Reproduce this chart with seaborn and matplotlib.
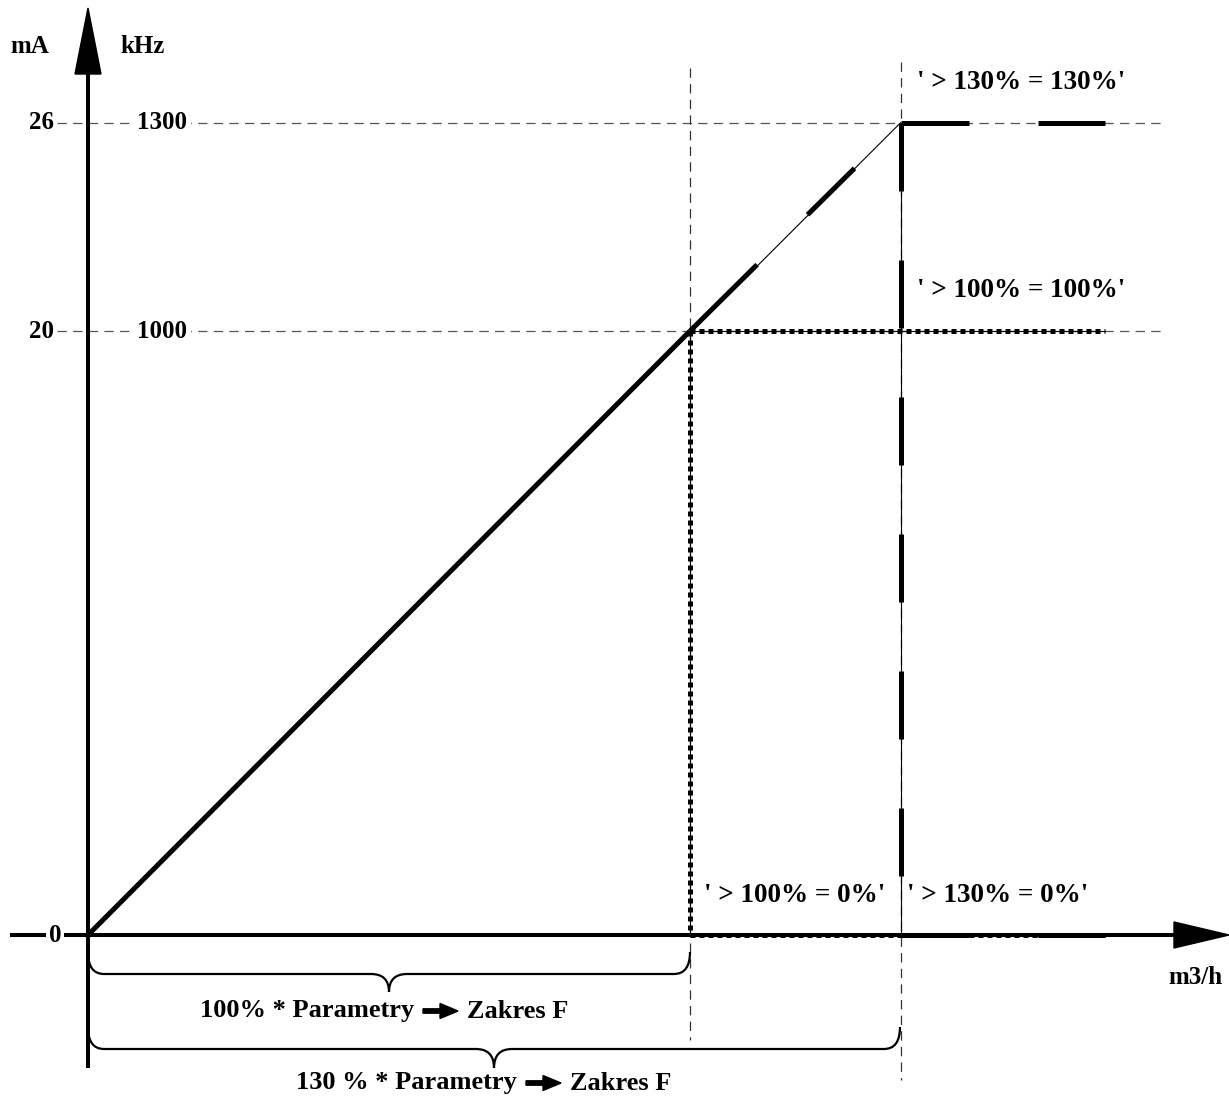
import matplotlib
matplotlib.use("Agg")
import numpy as np
import pandas as pd
import seaborn as sns
import matplotlib.pyplot as plt
from matplotlib.path import Path
from matplotlib.patches import PathPatch, Polygon

# ---------------- data (as drawn) ----------------
flow_pct = [0, 100, 135]          # x break points (origin, 100 %, 130 % line as drawn)
signal_ma = [0, 20, 26.9]         # output levels (0, 20 mA, 26 mA line as drawn)
ma_tick_labels = ["0", "20", "26"]
khz_tick_labels = ["", "1000", "1300"]
x_out_end = 169                   # end of the drawn output characteristics
case_labels = ["' > 130% = 130%'", "' > 100% = 100%'", "' > 100% = 0%'", "' > 130% = 0%'"]
brace_left = ["100% * Parametry", "130 % * Parametry"]
brace_right = ["Zakres F", "Zakres F"]

# ---------------- figure ----------------
sns.set_theme(style="white")
plt.rcParams["font.family"] = ["Liberation Serif", "DejaVu Sans"]
plt.rcParams["font.weight"] = "bold"

W, H = 1229, 1097
fig = plt.figure(figsize=(W / 100, H / 100), dpi=100)
ax = fig.add_axes([0, 0, 1, 1])
OX, OY, SX, SY = 88, 935, 6.02, 30.2
ax.set_xlim(-OX / SX, (W - OX) / SX)
ax.set_ylim(-(H - OY) / SY, OY / SY)
ax.axis("off")


def dx(p):
    return (p - OX) / SX


def dy(p):
    return (OY - p) / SY


def P(x, y):
    return dx(x), dy(y)


def line(xs, ys, **kw):
    sns.lineplot(x=xs, y=ys, sort=False, estimator=None, ax=ax,
                 color="black", legend=False, **kw)


# reference dashed lines
for lev in signal_ma[1:]:
    ax.plot([dx(57), dx(1165)], [lev, lev], color="#555555", lw=0.9,
            linestyle=(0, (7.5, 5)), zorder=1)
for fx, (yt, yb) in zip(flow_pct[1:], [(68, 1040), (62, 1080)]):
    ax.plot([fx, fx], [dy(yt), dy(yb)], color="#333333", lw=0.9,
            linestyle=(0, (7.5, 5)), zorder=1)

# axes
ax.plot([dx(10), dx(1180)], [0, 0], color="black", lw=2.9, zorder=3,
        solid_capstyle="butt")
ax.plot([0, 0], [dy(1068), dy(70)], color="black", lw=2.9, zorder=3,
        solid_capstyle="butt")
ax.add_patch(Polygon([P(88, 8), P(75, 74), P(101, 74)], closed=True,
                     color="black", zorder=3))
ax.add_patch(Polygon([P(1229, 935), P(1174, 922), P(1174, 948)], closed=True,
                     color="black", zorder=3))

x0, x100, x130 = flow_pct
y0, y20, y26 = signal_ma

# thin guide lines of the 130 % characteristic
line([x0, x130], [y0, y26], lw=0.8, zorder=4)
line([x130, x130], [y26, y0], lw=0.8, zorder=4)

# 100 % characteristic (solid), then dotted outputs
line([x0, x100], [y0, y20], lw=3.6, zorder=5, solid_capstyle="butt")
dot = dict(lw=3.6, linestyle=(0, (1.0, 0.8)), dash_capstyle="butt", zorder=5)
line([x100, x_out_end], [y20, y20], lw=0.8, zorder=4)
line([x100, x_out_end], [y20, y20], **dot)
line([x100, x100], [y20, y0], lw=0.8, zorder=4)
line([x100, x100], [y20, y0], **dot)
line([x100, x_out_end], [y0, y0], **dot)

# 130 % characteristic: long dashes
ld = (13.6, 13.8)
diag = (13.2, 14.2, 19.5, 13.0)
line([x130, x100], [y26, y20], lw=3.6,
     linestyle=(diag[0] + diag[1] + diag[2], diag), dash_capstyle="butt", zorder=5)
line([x130, x_out_end], [y26, y26], lw=3.6, linestyle=(0, ld), dash_capstyle="butt", zorder=5)
line([x130, x130], [y26, y0], lw=3.6, linestyle=(0, ld), dash_capstyle="butt", zorder=5)
line([x130, x_out_end], [y0, y0], lw=3.6, linestyle=(0, ld), dash_capstyle="butt", zorder=5)

# texts
tk = dict(fontsize=18, fontweight="bold", ha="center", va="center", color="black")
tb = dict(tk, fontsize=19.5)
tbr = dict(tk, fontsize=19)
ax.text(*P(30, 46), "mA", **tk)
ax.text(*P(143, 46), "kHz", **tk)
for lev, lab, khz in zip(signal_ma, ma_tick_labels, khz_tick_labels):
    if lab == "0":
        ax.text(*P(55, OY), lab, zorder=6,
                bbox=dict(facecolor="white", edgecolor="none", pad=2), **tk)
    else:
        ax.text(dx(42), lev, lab, **tk)
        ax.text(dx(162), lev, khz, zorder=6,
                bbox=dict(facecolor="white", edgecolor="none", pad=3), **tk)
ax.text(*P(1195, 977), "m3/h", **tk)

for lab, (tx, ty) in zip(case_labels, [(1021, 82), (1021, 290), (795, 896), (998, 896)]):
    ax.text(*P(tx, ty), lab, **tb)


# braces
def brace(xl, xr, yh, rise, tip):
    xc = (xl + xr) / 2
    r = 16
    pts = [(xl, yh - rise), (xl, yh), (xl + r, yh),
           (xc - 18, yh), (xc, yh), (xc, yh + tip),
           (xc, yh), (xc + 18, yh),
           (xr - r, yh), (xr, yh), (xr, yh - rise)]
    codes = [Path.MOVETO, Path.CURVE3, Path.CURVE3,
             Path.LINETO, Path.CURVE3, Path.CURVE3,
             Path.CURVE3, Path.CURVE3,
             Path.LINETO, Path.CURVE3, Path.CURVE3]
    verts = [P(a, b) for a, b in pts]
    ax.add_patch(PathPatch(Path(verts, codes), facecolor="none",
                           edgecolor="black", lw=1.6, zorder=3))


def arrow_label(left, right, xa, ya):
    # xa = left end of the arrow glyph (pixels)
    tl = dict(tbr, ha="right")
    tr = dict(tbr, ha="left")
    ax.text(*P(xa - 9, ya), left, **tl)
    ax.text(*P(xa + 44, ya), right, **tr)
    pts = [(xa, ya - 2.2), (xa + 17, ya - 2.2), (xa + 17, ya - 7.5),
           (xa + 35, ya), (xa + 17, ya + 7.5), (xa + 17, ya + 2.2), (xa, ya + 2.2)]
    ax.add_patch(Polygon([P(a, b) for a, b in pts], closed=True,
                         color="black", zorder=3))


brace(88, 690, 974, 22, 18)
brace(88, 900, 1049, 22, 19)
arrow_label(brace_left[0], brace_right[0], 423, 1011)
arrow_label(brace_left[1], brace_right[1], 526, 1083)

fig.savefig("out.png", dpi=100, facecolor="white")
